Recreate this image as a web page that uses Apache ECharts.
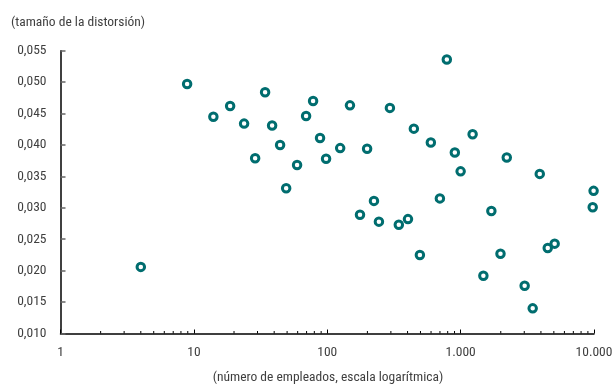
<!DOCTYPE html>
<html>
<head>
<meta charset="utf-8">
<script src="https://cdn.jsdelivr.net/npm/echarts@6/dist/echarts.min.js"></script>
<style>
html,body{margin:0;padding:0;background:#fff;}
#chart{width:613px;height:387px;}
</style>
</head>
<body>
<div id="chart"></div>
<script>
// number of employees (log scale)
var employees = [4.0, 8.9, 14, 18.7, 23.8, 28.8, 34.2, 38.6, 44.3, 49.2, 59.4, 69.4, 78.3, 88.3, 98, 125, 148, 176, 199, 224, 244, 295, 344, 403, 446, 495, 598, 699, 788, 905, 1000, 1230, 1481, 1700, 1990, 2218, 3020, 3470, 3920, 4500, 5070, 9930, 9780];
// size of the distortion
var distortion = [0.0206, 0.0497, 0.0445, 0.0462, 0.0434, 0.0379, 0.0484, 0.0431, 0.0400, 0.0331, 0.0368, 0.0446, 0.0470, 0.0411, 0.0378, 0.0395, 0.0463, 0.0289, 0.0394, 0.0311, 0.0278, 0.0459, 0.0273, 0.0282, 0.0426, 0.0225, 0.0404, 0.0315, 0.0536, 0.0388, 0.0358, 0.0417, 0.0192, 0.0295, 0.0227, 0.0380, 0.0176, 0.0140, 0.0354, 0.0236, 0.0243, 0.0327, 0.0301];
var xTickValues = [1, 10, 100, 1000, 10000];
var xTickLabels = ['1', '10', '100', '1.000', '10.000'];
var minorTickValues = [2,3,4,5,6,7,8,9,20,30,40,50,60,70,80,90,200,300,400,500,600,700,800,900,2000,3000,4000,5000,6000,7000,8000,9000];
var yTitle = '(tamaño de la distorsión)';
var xTitle = '(número de empleados, escala logarítmica)';

var FONT = "'Roboto Condensed', 'DejaVu Sans Condensed', sans-serif";
var FS = 13.5;
var TXT = '#3f3f3f';
var points = employees.map(function (e, i) { return [e, distortion[i]]; });

var chart = echarts.init(document.getElementById('chart'), null, {renderer: 'canvas'});
chart.setOption({
  animation: false,
  backgroundColor: '#fff',
  grid: {left: 60.5, right: 19, top: 50.7, bottom: 53.5, containLabel: false, outerBoundsMode: 'none'},
  title: {
    text: yTitle, left: 6, top: 11,
    textStyle: {fontFamily: FONT, fontSize: FS, fontWeight: 'normal', color: TXT}
  },
  graphic: [{
    type: 'text', x: 328, y: 378,
    style: {text: xTitle, font: FS + 'px ' + FONT, fill: TXT, textAlign: 'center', textVerticalAlign: 'middle'}
  }],
  xAxis: {
    type: 'log', logBase: 10, min: 1, max: 10000,
    axisLine: {lineStyle: {color: '#000', width: 1.5}},
    axisTick: {show: true, inside: true, length: 4, lineStyle: {color: '#000', width: 1}},
    splitLine: {show: false},
    axisLabel: {
      margin: 12, fontFamily: FONT, fontSize: FS, color: TXT,
      formatter: function (v) {
        var idx = xTickValues.indexOf(Math.round(v));
        return idx >= 0 ? xTickLabels[idx] : '';
      }
    }
  },
  yAxis: {
    type: 'value', min: 0.010, max: 0.055, interval: 0.005,
    axisLine: {show: true, lineStyle: {color: '#000', width: 1.5}},
    axisTick: {show: true, inside: true, length: 5, lineStyle: {color: '#666', width: 1.5}},
    splitLine: {show: false},
    axisLabel: {
      margin: 14, fontFamily: FONT, fontSize: FS, color: TXT,
      formatter: function (v) { return v.toFixed(3).replace('.', ','); }
    }
  },
  series: [{
    type: 'custom',
    silent: true,
    clip: false,
    data: minorTickValues.map(function (v) { return [v, 0.010]; }),
    renderItem: function (params, api) {
      var p = api.coord([api.value(0), api.value(1)]);
      return {
        type: 'line',
        shape: {x1: p[0], y1: p[1], x2: p[0], y2: p[1] - 2.5},
        style: {stroke: '#000', lineWidth: 1}
      };
    }
  }, {
    type: 'scatter',
    data: points,
    symbol: 'circle',
    symbolSize: 7.5,
    itemStyle: {color: '#fff', borderColor: '#006D6F', borderWidth: 3, opacity: 1},
    z: 5
  }]
});
</script>
</body>
</html>
